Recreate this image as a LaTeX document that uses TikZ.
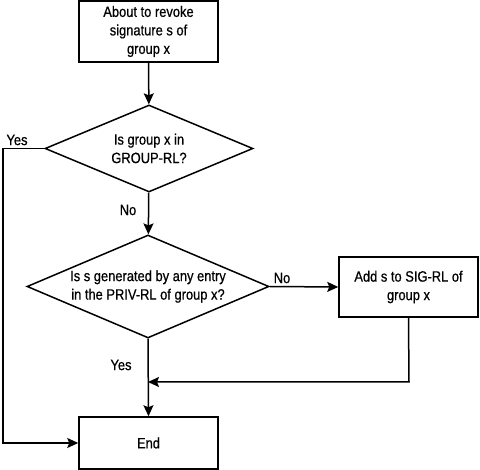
\documentclass[tikz,border=0pt]{standalone}
\usepackage{fontspec}
\setmainfont{Liberation Sans}[FakeStretch=0.86,FakeBold=0.6]
\usetikzlibrary{shapes.geometric,arrows.meta}
\begin{document}
\begin{tikzpicture}[x=1pt,y=-1pt,
  every node/.style={font=\fontsize{15}{18.5}\selectfont},
  box/.style={draw,line width=1.5pt,align=center,inner sep=0pt},
  dia/.style={draw,diamond,line width=1.5pt,align=center,inner sep=0pt},
  conn/.style={line width=1.5pt},
  arr/.style={conn,-{Stealth[length=11pt,width=10pt,inset=2pt]}},
  lbl/.style={inner sep=0pt}]
\useasboundingbox (0,0) rectangle (480,470);
\node[box,minimum width=139pt,minimum height=61pt] (start) at (148.5,31.5) {About to revoke\\signature s of\\group x};
\node[dia,minimum width=208pt,minimum height=87pt,shape aspect=2.39] (d1) at (149,148.5) {Is group x in\\GROUP-RL?};
\node[dia,minimum width=242pt,minimum height=103pt,shape aspect=2.35] (d2) at (148,286.5) {Is s generated by any entry\\in the PRIV-RL of group x?};
\node[box,minimum width=139pt,minimum height=60pt] (add) at (408.5,287) {Add s to SIG-RL of\\group x};
\node[box,minimum width=139pt,minimum height=52pt] (end) at (148.5,443) {End};
\coordinate (c1) at (3,148.5);
\coordinate (c2) at (3,443);
\coordinate (c3) at (409,382);
\coordinate (c4) at (148,382);
\draw[arr] (start) -- (d1);
\draw[arr] (d1) -- (d2);
\draw[arr] (d1.west) -- (c1) -- (c2) -- (end.west);
\draw[arr] (d2.east) -- (add.west);
\draw[arr] (d2.south) -- (end.north);
\draw[arr] (add.south) -- (c3) -- (c4);
\node[lbl] (yes1) at (17,140) {Yes};
\node[lbl] (no1) at (128,210) {No};
\node[lbl] (no2) at (282,278) {No};
\node[lbl] (yes2) at (121,365) {Yes};
\end{tikzpicture}
\end{document}
